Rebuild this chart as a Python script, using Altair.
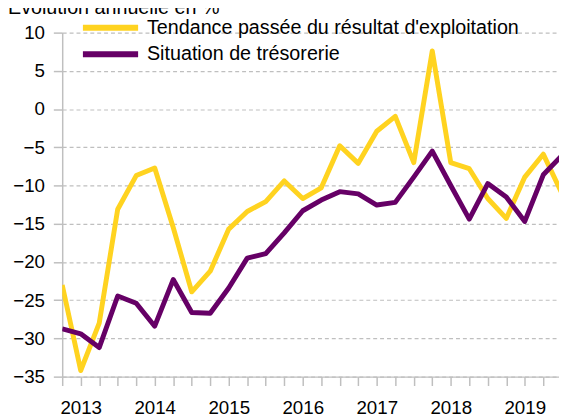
import json
import altair as alt
import pandas as pd

# Quarterly points (index 0 = first quarter shown), values in %
tendance = [-23.0, -34.2, -28.0, -13.1, -8.7, -7.7, -15.5, -23.9, -21.2, -15.7,
            -13.4, -12.1, -9.4, -11.7, -10.3, -4.8, -7.1, -2.9, -0.95, -7.0,
            7.6, -7.0, -7.8, -11.7, -14.3, -8.9, -5.9, -11.0]
tresorerie = [-28.75, -29.4, -31.2, -24.45, -25.4, -28.4, -22.3, -26.6, -26.7, -23.4,
              -19.5, -18.9, -16.2, -13.3, -11.9, -10.8, -11.1, -12.55, -12.2, -8.9,
              -5.5, -10.0, -14.4, -9.75, -11.5, -14.7, -8.6, -6.1]
years = ["2013", "2014", "2015", "2016", "2017", "2018", "2019"]
series_names = ["Tendance passée du résultat d'exploitation", "Situation de trésorerie"]
colors = ["#FFD320", "#660066"]
y_ticks = [-35, -30, -25, -20, -15, -10, -5, 0, 5, 10]
title_text = "Évolution annuelle en %"

idx = list(range(len(tendance)))
df1 = pd.DataFrame({"t": idx, "v": tendance, "s": series_names[0]})
df2 = pd.DataFrame({"t": idx, "v": tresorerie, "s": series_names[1]})

FONT = "Liberation Sans"
label_expr = f"datum.value % 4 == 1 ? {json.dumps(years)}[(datum.value - 1) / 4] : ''"

x_enc = alt.X("t:Q", scale=alt.Scale(domain=[0, 26.85], nice=False, zero=False),
              axis=alt.Axis(values=list(range(0, 27)), labelExpr=label_expr, grid=False,
                            title=None, tickSize=9, labelPadding=13, labelFlush=False))
y_enc = alt.Y("v:Q", scale=alt.Scale(domain=[-35, 10], nice=False),
              axis=alt.Axis(values=y_ticks, title=None, tickSize=9, labelPadding=9,
                            grid=True, gridDash=[4, 3]))


def layer(df, name, color, ly):
    return alt.Chart(df).mark_line(strokeWidth=5, clip=True, strokeJoin="round").encode(
        x=x_enc,
        y=y_enc,
        color=alt.Color("s:N", scale=alt.Scale(domain=[name], range=[color]),
                        legend=alt.Legend(orient="none", legendX=18, legendY=ly, title=None,
                                          symbolType="stroke", symbolSize=3136,
                                          symbolStrokeWidth=6, labelFontSize=20,
                                          labelFont=FONT, labelColor="#000000",
                                          labelOffset=6, padding=0, labelLimit=600)),
    )


chart = alt.layer(
    layer(df1, series_names[0], colors[0], -36),
    layer(df2, series_names[1], colors[1], -9),
).resolve_scale(color="independent").properties(
    width=504,
    height=349,
    autosize=alt.AutoSizeParams(type="none"),
    padding={"left": 55, "top": 22, "right": 0, "bottom": 40},
    title=alt.Title(title_text, anchor="start", frame="group", dx=-55, offset=-37,
                    baseline="alphabetic", fontSize=20, fontWeight="normal", font=FONT,
                    color="#000000"),
).configure_axis(
    labelFont=FONT, labelFontSize=19, labelColor="#000000",
    domainColor="#BFBFBF", tickColor="#BFBFBF", gridColor="#BFBFBF",
    domainWidth=1.5, tickWidth=1.5, gridWidth=1.2,
).configure_view(stroke=None)

chart.save("out.html", embed_options={"renderer": "svg", "actions": False})
